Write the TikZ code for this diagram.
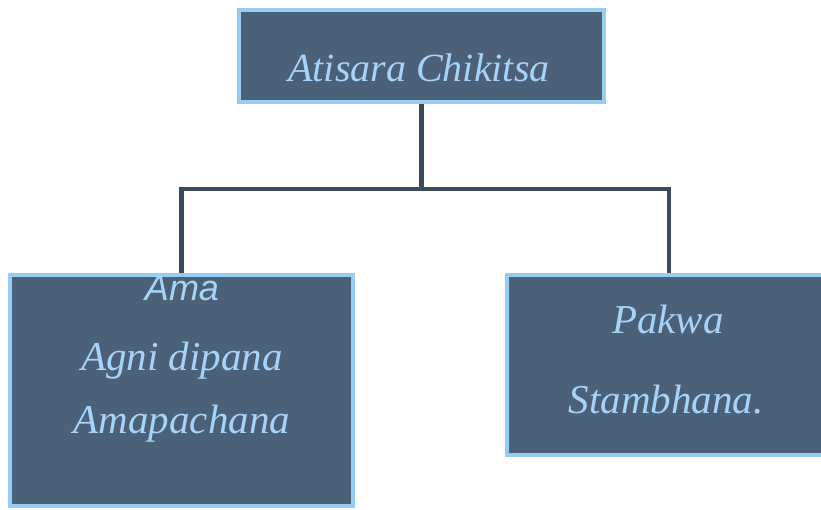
\documentclass[tikz,border=0pt]{standalone}
\usepackage{fontspec}
\setmainfont{Liberation Serif}
\setsansfont{Liberation Sans}
\usetikzlibrary{positioning}
\definecolor{boxfill}{RGB}{75,97,119}
\definecolor{boxedge}{RGB}{150,205,245}
\definecolor{boxtext}{RGB}{165,212,248}
\definecolor{linkcol}{RGB}{58,74,90}

\begin{document}
\begin{tikzpicture}[
    x=1pt, y=-1pt,
    box/.style={rectangle, draw=boxedge, line width=4pt, fill=boxfill, inner sep=0pt},
    txt/.style={text=boxtext, anchor=base, inner sep=0pt, font=\fontsize{41}{50}\selectfont\itshape},
    link/.style={draw=linkcol, line width=4.5pt}
]
\useasboundingbox (0,0) rectangle (821,510);
\clip (0,0) rectangle (821,510);

% connectors first, boxes on top
\coordinate (bus) at (421.5,189);
\node[box, minimum width=365pt, minimum height=92pt, draw=none, fill=none] (top) at (421.5,56) {};
\node[box, minimum width=343pt, minimum height=231pt, draw=none, fill=none] (left) at (181.5,390.5) {};
\node[box, minimum width=324pt, minimum height=180pt, draw=none, fill=none] (right) at (669,365) {};
\draw[link] (top.south) -- (bus);
\draw[link] (left.north) |- (bus) -| (right.north);

% boxes
\node[box, minimum width=365pt, minimum height=92pt] at (top) {};
\node[box, minimum width=343pt, minimum height=231pt] at (left) {};
\node[box, minimum width=324pt, minimum height=180pt] at (right) {};

% texts
\node[txt, font=\fontsize{40}{48}\selectfont\itshape] (title) at (419,82) {Atisara Chikitsa};
\node[txt, font=\fontsize{36}{42}\selectfont\sffamily\itshape] (ama) at (182,301) {Ama};
\node[txt] (agni) at (182,370) {Agni dipana};
\node[txt] (amapachana) at (182,433) {Amapachana};
\node[txt] (pakwa) at (668,333) {Pakwa};
\node[txt] (stambhana) at (666,413) {Stambhana.};
\end{tikzpicture}
\end{document}
